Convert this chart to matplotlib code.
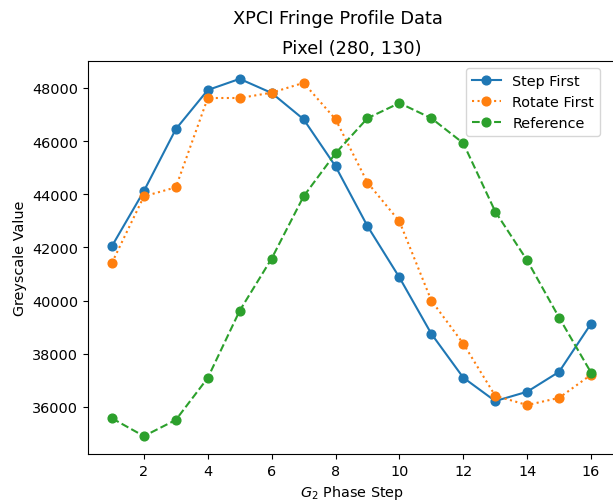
import matplotlib
matplotlib.use("Agg")
import matplotlib.pyplot as plt

steps = list(range(1, 17))

step_first = [42050, 44120, 46450, 47920, 48340, 47810, 46820, 45050,
              42800, 40870, 38750, 37100, 36220, 36570, 37320, 39130]
rotate_first = [41420, 43920, 44260, 47620, 47620, 47820, 48190, 46820,
                44440, 42980, 40000, 38380, 36420, 36070, 36340, 37210]
reference = [35570, 34900, 35510, 37090, 39620, 41580, 43920, 45540,
             46860, 47430, 46860, 45920, 43350, 41510, 39360, 37290]

plt.rcParams['font.size'] = 10.4

fig = plt.figure(figsize=(6.13, 5.02), dpi=100)
ax = fig.add_axes([88/613, 47/502, 527/613, 393/502])

ax.plot(steps, step_first, 'o-', label='Step First', ms=6.3)
ax.plot(steps, rotate_first, 'o:', label='Rotate First', ms=6.3)
ax.plot(steps, reference, 'o--', label='Reference', ms=6.3)

ax.set_xlabel('$G_2$ Phase Step')
ax.set_ylabel('Greyscale Value')
ax.set_title('Pixel (280, 130)', fontsize=12.8)
fig.suptitle('XPCI Fringe Profile Data', x=0.552, y=0.98, fontsize=12.8)
ax.legend(loc='upper right', bbox_to_anchor=(0.985, 1.0))

fig.savefig('out.png', dpi=100)
